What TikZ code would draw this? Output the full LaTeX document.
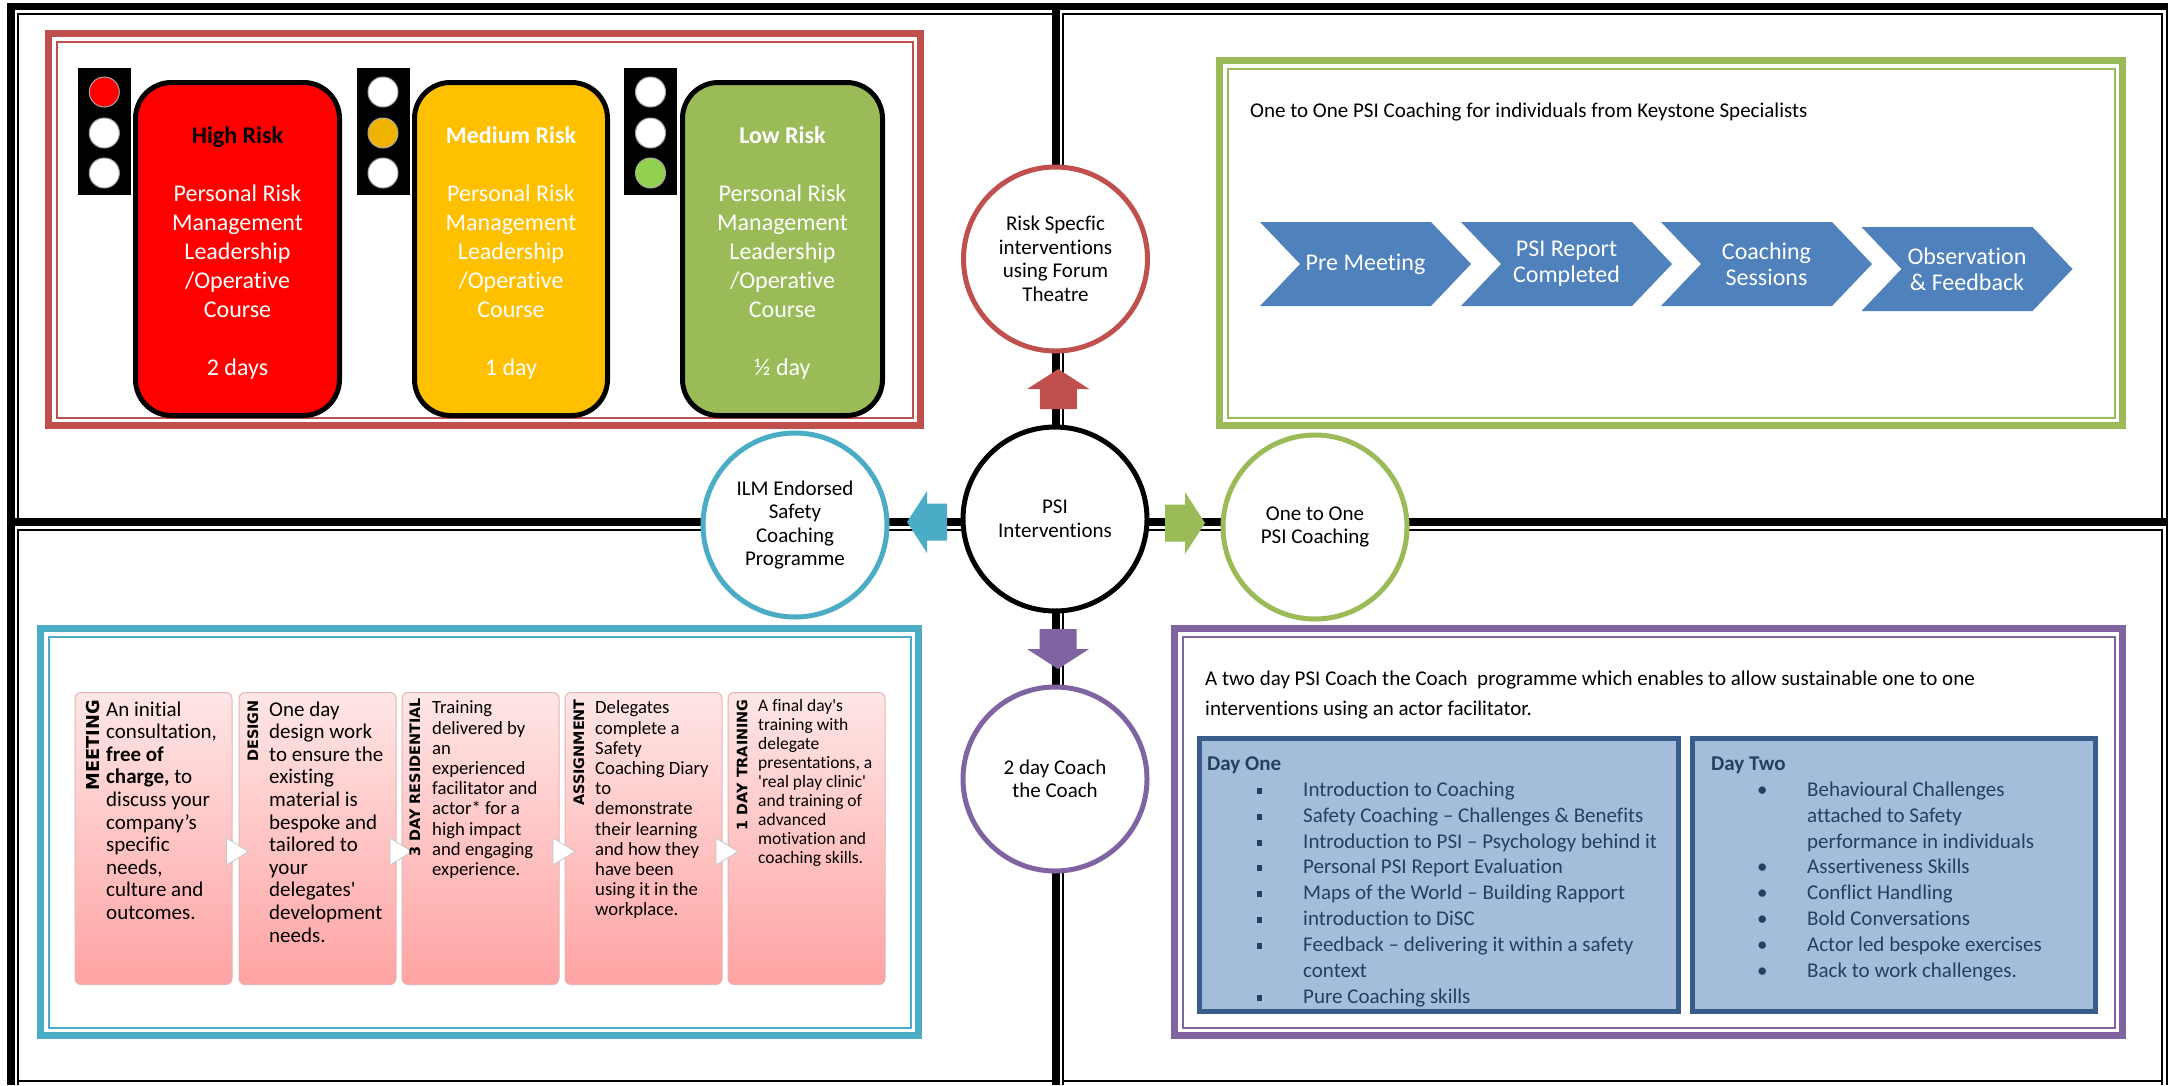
\documentclass[tikz,border=0pt]{standalone}
\usepackage{fontspec}
\setmainfont{Carlito}[Ligatures=TeX,RawFeature={-liga;-clig;-calt;-dlig;-hlig}]
\newfontfamily\labfont{DejaVu Sans}
\usetikzlibrary{calc}
\definecolor{rframe}{HTML}{C0504D}
\definecolor{gframe}{HTML}{9BBB59}
\definecolor{cframe}{HTML}{4BACC6}
\definecolor{pframe}{HTML}{8064A2}
\definecolor{chevblue}{HTML}{4F81BD}
\definecolor{dayfill}{HTML}{A4BDDB}
\definecolor{dayline}{HTML}{385D8A}
\definecolor{daytext}{HTML}{243F60}
\definecolor{riskred}{HTML}{FF0000}
\definecolor{riskamber}{HTML}{FFC000}
\definecolor{riskgreen}{HTML}{9BBB59}
\definecolor{lampamber}{HTML}{F0B400}
\definecolor{lampgreen}{HTML}{92D050}
\definecolor{pinktop}{HTML}{FFE6E6}
\definecolor{pinkbot}{HTML}{FFA3A3}
\definecolor{pinkline}{HTML}{E3B5B5}
\newcommand{\dframe}[5]{%
  \draw[#1,line width=7pt] (#2+3.5,#3+3.5) rectangle (#4-3.5,#5-3.5);
  \draw[#1,line width=2pt] (#2+11.5,#3+11.5) rectangle (#4-11.5,#5-11.5);}
\newcommand{\chev}[4]{%
  \fill[chevblue] (#2-105.5,#3-42) -- (#2+65.5,#3-42) -- (#2+105.5,#3) -- (#2+65.5,#3+42) -- (#2-105.5,#3+42) -- (#2-65.5,#3) -- cycle;
  \node[chevtxt] (#1) at (#2,#3) {#4};}
\newcommand{\lns}[1]{\begin{tabular}{@{}l@{}}#1\end{tabular}}
\newcommand{\sqb}{\makebox[96pt][l]{\hspace*{49.5pt}\rule[2.5pt]{5pt}{6pt}}}
\newcommand{\rdb}{\makebox[96pt][l]{\hspace*{46pt}•}}
\newcommand{\sq}{\textquotesingle}
\begin{document}
\begin{tikzpicture}[x=1pt,y=-1pt,
  thickline/.style={line width=8pt,black},
  thinline/.style={line width=2pt,black},
  bubble/.style={circle,minimum size=184pt,line width=5pt,fill=white,align=center,inner sep=0pt,font=\fontsize{21}{23.5}\selectfont},
  riskbox/.style={rectangle,rounded corners=36pt,draw=black,line width=5pt,minimum height=333pt,inner sep=0pt},
  risktxt/.style={align=center,inner sep=0pt,text=white,font=\fontsize{24}{29}\selectfont},
  tlight/.style={rectangle,fill=black,minimum width=53pt,minimum height=127pt,inner sep=0pt},
  lamp/.style={circle,minimum size=30pt,inner sep=0pt,draw=gray!70,line width=1pt},
  chevtxt/.style={align=center,text=white,inner sep=0pt,font=\fontsize{24}{26}\selectfont},
  panel/.style={rectangle,rounded corners=6pt,top color=pinktop,bottom color=pinkbot,draw=pinkline,line width=1pt,minimum width=157pt,minimum height=292pt,inner sep=0pt},
  ptext/.style={anchor=north west,inner sep=0pt},
  vlab/.style={rotate=90,anchor=east,inner sep=0pt},
  ptri/.pic={\draw[fill=white,draw=gray!45,line width=0.8pt] (-11,-13.5) -- (11,0) -- (-11,13.5) -- cycle;},
  barrow/.pic={\fill (-20,-18.5) -- (0,-18.5) -- (0,-31) -- (20,0) -- (0,31) -- (0,18.5) -- (-20,18.5) -- cycle;},
  daybox/.style={rectangle,draw=dayline,fill=dayfill,line width=5pt,inner sep=0pt},
  daytxt/.style={anchor=north west,inner sep=0pt,text=daytext,font=\fontsize{21}{25.9}\selectfont}
]
\useasboundingbox (0,0) rectangle (2168,1085);
\fill[white] (0,0) rectangle (2168,1085);

% quadrant grid
\draw[line width=7pt] (7,6.5) -- (2168,6.5);
\draw[line width=8pt] (11,3) -- (11,1085);
\draw[thickline] (1056,3) -- (1056,1085);
\draw[thickline] (7,522) -- (2168,522);
\draw[thinline] (18,518) -- (18,14) -- (1052,14);
\draw[thinline] (1063,518) -- (1063,14) -- (2162,14) -- (2162,518);
\draw[thinline] (18,1085) -- (18,530) -- (1052,530);
\draw[thinline] (1063,1085) -- (1063,530) -- (2162,530) -- (2162,1085);
\draw[thinline] (18,1081) -- (1052,1081);
\draw[thinline] (1063,1081) -- (2162,1081);
\draw[thinline] (2166.5,3) -- (2166.5,1085);

% frames
\dframe{rframe}{45}{30}{924}{429}
\dframe{gframe}{1216}{57}{2126}{429}
\dframe{cframe}{37}{625}{922}{1039}
\dframe{pframe}{1171}{625}{2126}{1039}

% traffic lights
\node[tlight] (tl1) at (104.3,131.5) {};
\node[lamp,fill=riskred] (tl1a) at (104.3,92) {};
\node[lamp,fill=white] (tl1b) at (104.3,133) {};
\node[lamp,fill=white] (tl1c) at (104.3,173) {};
\node[tlight] (tl2) at (383,131.5) {};
\node[lamp,fill=white] (tl2a) at (383,92) {};
\node[lamp,fill=lampamber] (tl2b) at (383,133) {};
\node[lamp,fill=white] (tl2c) at (383,173) {};
\node[tlight] (tl3) at (650.5,131.5) {};
\node[lamp,fill=white] (tl3a) at (650.5,92) {};
\node[lamp,fill=white] (tl3b) at (650.5,133) {};
\node[lamp,fill=lampgreen] (tl3c) at (650.5,173) {};

% risk boxes
\node[riskbox,fill=riskred,minimum width=204pt] (high) at (237.5,249) {};
\node[risktxt] (hight) at ($(high.center)+(0,4)$)
  {\textcolor{black}{\textbf{High Risk}}\\[29pt]Personal Risk\\Management\\Leadership\\/Operative\\Course\\[29pt]2 days};
\node[riskbox,fill=riskamber,minimum width=193pt] (medium) at (511,249) {};
\node[risktxt] (mediumt) at ($(medium.center)+(0,4)$)
  {\textbf{Medium Risk}\\[29pt]Personal Risk\\Management\\Leadership\\/Operative\\Course\\[29pt]1 day};
\node[riskbox,fill=riskgreen,minimum width=200pt] (low) at (782.5,249) {};
\node[risktxt] (lowt) at ($(low.center)+(0,4)$)
  {\textbf{Low Risk}\\[29pt]Personal Risk\\Management\\Leadership\\/Operative\\Course\\[29pt]½ day};

% green header and chevrons
\node[anchor=base west,inner sep=0pt,font=\fontsize{21}{25}\selectfont] (ghead) at (1250,117)
  {One to One PSI Coaching for individuals from Keystone Specialists};
\chev{c1}{1365.5}{264}{Pre Meeting}
\chev{c2}{1566.5}{264}{PSI Report\\Completed}
\chev{c3}{1766.5}{264}{Coaching\\Sessions}
\chev{c4}{1967}{269}{Observation\\\& Feedback}

% central bubbles
\node[bubble,draw=rframe] (risk) at (1055.5,259) {Risk Specfic\\interventions\\using Forum\\Theatre};
\node[bubble,draw=black] (psi) at (1055,519) {PSI\\Interventions};
\node[bubble,draw=cframe] (ilm) at (795,525) {ILM Endorsed\\Safety\\Coaching\\Programme};
\node[bubble,draw=gframe] (one) at (1315,527) {One to One\\PSI Coaching};
\node[bubble,draw=pframe] (coach) at (1055,779) {2 day Coach\\the Coach};

% block arrows
\pic[rotate=90,color=rframe] at ($(psi.north)!0.5!(risk.south)+(3,0)$) {barrow};
\pic[rotate=180,color=cframe] at ($(psi.west)!0.5!(ilm.east)+(2,0)$) {barrow};
\pic[rotate=0,color=gframe] at ($(psi.east)!0.5!(one.west)$) {barrow};
\pic[rotate=-90,color=pframe] at ($(psi.south)!0.5!(coach.north)+(3,0)$) {barrow};

% pink process panels
\node[panel] (p1) at (153.5,838.5) {};
\node[panel] (p2) at (317.5,838.5) {};
\node[panel] (p3) at (480.5,838.5) {};
\node[panel] (p4) at (643.5,838.5) {};
\node[panel] (p5) at (806.5,838.5) {};
\pic at ($(p1.east)!0.5!(p2.west)+(2,13)$) {ptri};
\pic at ($(p2.east)!0.5!(p3.west)+(2,13)$) {ptri};
\pic at ($(p3.east)!0.5!(p4.west)+(2,13)$) {ptri};
\pic at ($(p4.east)!0.5!(p5.west)+(2,13)$) {ptri};

\node[vlab,font=\labfont\bfseries\fontsize{17.8}{20}\selectfont] (l1) at (93,700) {MEETING};
\node[vlab,font=\labfont\bfseries\fontsize{14.4}{17}\selectfont] (l2) at (253,700) {DESIGN};
\node[vlab,font=\labfont\bfseries\fontsize{14.4}{17}\selectfont] (l3) at (415,698) {3 DAY RESIDENTIAL};
\node[vlab,font=\labfont\bfseries\fontsize{14.4}{17}\selectfont] (l4) at (579,699) {ASSIGNMENT};
\node[vlab,font=\labfont\bfseries\fontsize{14.4}{17}\selectfont] (l5) at (742,699) {1 DAY TRAINING};

\node[ptext,font=\fontsize{21}{22.6}\selectfont] (t1) at (106,700)
  {\lns{An initial\\consultation,\\\textbf{free of}\\\textbf{charge,} to\\discuss your\\company’s\\specific\\needs,\\culture and\\outcomes.}};
\node[ptext,font=\fontsize{21}{22.6}\selectfont] (t2) at (269,700)
  {\lns{One day\\design work\\to ensure the\\existing\\material is\\bespoke and\\tailored to\\your\\delegates\sq\\development\\needs.}};
\node[ptext,font=\fontsize{18.7}{20.2}\selectfont] (t3) at (432,699.5)
  {\lns{Training\\delivered by\\an\\experienced\\facilitator and\\actor* for a\\high impact\\and engaging\\experience.}};
\node[ptext,font=\fontsize{18.7}{20.2}\selectfont] (t4) at (595,699.5)
  {\lns{Delegates\\complete a\\Safety\\Coaching Diary\\to\\demonstrate\\their learning\\and how they\\have been\\using it in the\\workplace.}};
\node[ptext,font=\fontsize{17.5}{19}\selectfont] (t5) at (758,698)
  {\lns{A final day\sq s\\training with\\delegate\\presentations, a\\\sq real play clinic\sq\\and training of\\advanced\\motivation and\\coaching skills.}};

% purple section
\node[ptext,font=\fontsize{21}{30}\selectfont] (ptxt) at (1205,664)
  {\lns{A two day PSI Coach the Coach\ \ programme which enables to allow sustainable one to one\\interventions using an actor facilitator.}};
\node[daybox,minimum width=479pt,minimum height=273pt] (d1) at (1439,875) {};
\node[daybox,minimum width=403pt,minimum height=273pt] (d2) at (1894,875) {};
\node[daytxt] (d1t) at (1207,752) {\begin{tabular}{@{}l@{}l@{}}
\multicolumn{2}{@{}l@{}}{\textbf{Day One}}\\
\sqb & Introduction to Coaching\\
\sqb & Safety Coaching – Challenges \& Benefits\\
\sqb & Introduction to PSI – Psychology behind it\\
\sqb & Personal PSI Report Evaluation\\
\sqb & Maps of the World – Building Rapport\\
\sqb & introduction to DiSC\\
\sqb & Feedback – delivering it within a safety\\
 & context\\
\sqb & Pure Coaching skills
\end{tabular}};
\node[daytxt] (d2t) at (1711,752) {\begin{tabular}{@{}l@{}l@{}}
\multicolumn{2}{@{}l@{}}{\textbf{Day Two}}\\
\rdb & Behavioural Challenges\\
 & attached to Safety\\
 & performance in individuals\\
\rdb & Assertiveness Skills\\
\rdb & Conflict Handling\\
\rdb & Bold Conversations\\
\rdb & Actor led bespoke exercises\\
\rdb & Back to work challenges.
\end{tabular}};
\end{tikzpicture}
\end{document}
